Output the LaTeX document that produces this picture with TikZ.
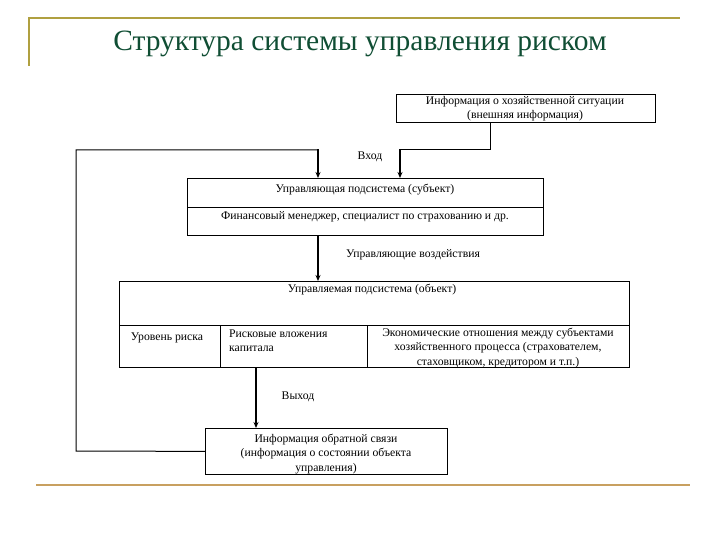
\documentclass[tikz,border=0pt]{standalone}
\usepackage{fontspec}
\setmainfont{Liberation Serif}
\usetikzlibrary{arrows.meta}
\definecolor{goldline}{RGB}{176,160,64}
\definecolor{tanline}{RGB}{200,160,96}
\definecolor{titlegreen}{RGB}{16,78,52}
\tikzset{
  box/.style={draw, line width=0.8pt},
  lbl/.style={font=\fontsize{11.7}{14.5}\selectfont, inner sep=0pt},
  conn/.style={line width=1pt},
  arr/.style={line width=1.6pt, -{Stealth[length=6pt,width=5pt]}},
}
\begin{document}
\begin{tikzpicture}[x=1pt,y=-1pt]
\useasboundingbox (0,0) rectangle (720,540);
% decorative lines
\draw[goldline, line width=2pt] (29,66) -- (29,18) -- (680,18);
\draw[tanline, line width=2.2pt] (36,485) -- (690,485);
% title
\node[titlegreen, font=\fontsize{29.5}{32}\selectfont] (title) at (360,44) {Структура системы управления риском};
% box 1
\node[box, minimum width=259, minimum height=28, anchor=north west, inner sep=0pt] (ext) at (396,94) {};
\node[lbl, align=center] (extt) at (525,108.5) {Информация о хозяйственной ситуации\\(внешняя информация)};
% box 2
\node[box, minimum width=356, minimum height=57, anchor=north west, inner sep=0pt] (subj) at (187,178) {};
\draw[line width=0.8pt] (187,207) -- (543,207);
\node[lbl] (subj1) at (365,190) {Управляющая подсистема (субъект)};
\node[lbl] (subj2) at (365,217) {Финансовый менеджер, специалист по страхованию и др.};
% box 3
\node[box, minimum width=510, minimum height=86, anchor=north west, inner sep=0pt] (obj) at (119,281) {};
\draw[line width=0.8pt] (119,325) -- (629,325);
\draw[line width=0.8pt] (220,325) -- (220,367);
\draw[line width=0.8pt] (367,325) -- (367,367);
\node[lbl] (obj0) at (372,290) {Управляемая подсистема (объект)};
\node[lbl] (c1) at (167,338) {Уровень риска};
\node[lbl, align=left, anchor=west] (c2) at (229,340.5) {Рисковые вложения\\капитала};
\node[lbl, align=center] (c3) at (498,348) {Экономические отношения между субъектами\\хозяйственного процесса (страхователем,\\стаховщиком, кредитором и т.п.)};
% box 5
\node[box, minimum width=242, minimum height=46, anchor=north west, inner sep=0pt] (fb) at (205,428) {};
\node[lbl, align=center] (fbt) at (326,454) {Информация обратной связи\\(информация о состоянии объекта\\управления)};
% connectors
\coordinate (j1) at (490,150);
\draw[conn] (ext.south -| j1) -- (j1) -- (400,150);
\draw[arr] (400,149.5) -- (subj.north -| 400,0);
\draw[conn] (fb.west) -- (76,451) -- (76,150) -- (318,150);
\draw[arr] (318,149.5) -- (subj.north -| 318,0);
\draw[arr] (subj.south -| 318,0) -- (obj.north -| 318,0);
\draw[arr] (obj.south -| 256,0) -- (fb.north -| 256,0);
% labels
\node[lbl] (in) at (370,157) {Вход};
\node[lbl] (act) at (413,255) {Управляющие воздействия};
\node[lbl] (out) at (298,397) {Выход};
\end{tikzpicture}
\end{document}
